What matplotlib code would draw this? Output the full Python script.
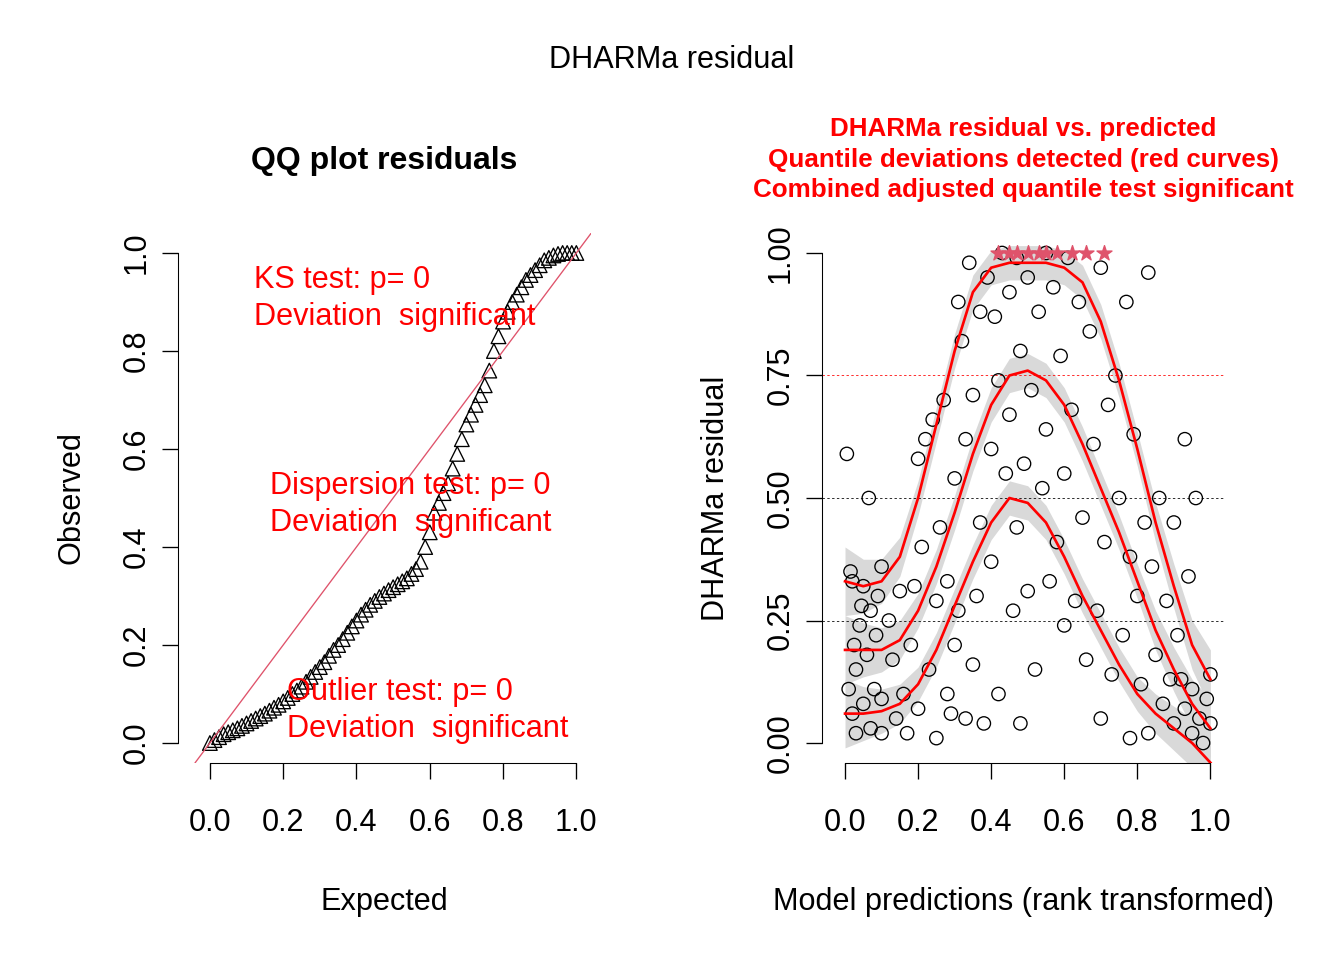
import matplotlib
matplotlib.use("Agg")
import matplotlib.pyplot as plt
import numpy as np

plt.rcParams['font.family'] = ['Liberation Sans', 'DejaVu Sans']

# QQ plot: observed quantiles at expected = i/80
qq_obs = [0.000, 0.006, 0.012, 0.018, 0.022, 0.026, 0.030, 0.035, 0.040, 0.045,
          0.050, 0.055, 0.060, 0.066, 0.072, 0.078, 0.085, 0.092, 0.100, 0.107,
          0.115, 0.125, 0.135, 0.145, 0.155, 0.165, 0.178, 0.190, 0.200, 0.212,
          0.225, 0.238, 0.250, 0.262, 0.272, 0.282, 0.290, 0.298, 0.305, 0.312,
          0.318, 0.324, 0.330, 0.336, 0.345, 0.355, 0.370, 0.400, 0.430, 0.470,
          0.490, 0.510, 0.530, 0.560, 0.590, 0.620, 0.650, 0.670, 0.690, 0.710,
          0.730, 0.760, 0.800, 0.830, 0.860, 0.880, 0.900, 0.915, 0.930, 0.945,
          0.955, 0.965, 0.975, 0.985, 0.990, 0.995, 0.998, 1.0, 1.0, 1.0, 1.0]
qq_exp = [i / 80 for i in range(81)]

# residual vs predicted scatter
res_pts = [(0.005,0.59),(0.01,0.11),(0.015,0.35),(0.02,0.06),(0.02,0.33),(0.025,0.2),(0.03,0.02),
           (0.03,0.15),(0.04,0.24),(0.045,0.28),(0.05,0.08),(0.05,0.32),(0.06,0.18),(0.065,0.5),
           (0.07,0.03),(0.07,0.27),(0.08,0.11),(0.085,0.22),(0.09,0.3),(0.1,0.36),(0.1,0.02),
           (0.1,0.09),(0.12,0.25),(0.13,0.17),(0.14,0.05),(0.15,0.31),(0.16,0.1),(0.17,0.02),
           (0.18,0.2),(0.19,0.32),(0.2,0.58),(0.2,0.07),(0.21,0.4),(0.22,0.62),(0.23,0.15),
           (0.24,0.66),(0.25,0.29),(0.25,0.01),(0.26,0.44),(0.27,0.7),(0.28,0.33),(0.28,0.1),
           (0.29,0.06),(0.3,0.54),(0.3,0.2),(0.31,0.9),(0.31,0.27),(0.32,0.82),(0.33,0.62),
           (0.33,0.05),(0.34,0.98),(0.35,0.71),(0.35,0.16),(0.36,0.3),(0.37,0.88),(0.37,0.45),
           (0.38,0.04),(0.39,0.95),(0.4,0.6),(0.4,0.37),(0.41,0.87),(0.42,0.74),(0.42,0.1),
           (0.43,1.0),(0.44,0.55),(0.45,0.92),(0.45,0.67),(0.46,0.27),(0.47,0.99),(0.47,0.44),
           (0.48,0.8),(0.48,0.04),(0.49,0.57),(0.5,0.95),(0.5,0.31),(0.51,0.72),(0.52,0.15),
           (0.53,0.88),(0.54,0.52),(0.55,1.0),(0.55,0.64),(0.56,0.33),(0.57,0.93),(0.58,0.41),
           (0.59,0.79),(0.6,0.55),(0.6,0.24),(0.61,0.99),(0.62,0.68),(0.63,0.29),(0.64,0.9),
           (0.65,0.46),(0.66,0.17),(0.67,0.84),(0.68,0.61),(0.69,0.27),(0.7,0.97),(0.7,0.05),
           (0.71,0.41),(0.72,0.69),(0.73,0.14),(0.74,0.75),(0.75,0.5),(0.76,0.22),(0.77,0.9),
           (0.78,0.38),(0.78,0.01),(0.79,0.63),(0.8,0.3),(0.81,0.12),(0.82,0.45),(0.83,0.96),
           (0.83,0.02),(0.84,0.36),(0.85,0.18),(0.86,0.5),(0.87,0.08),(0.88,0.29),(0.89,0.13),
           (0.9,0.45),(0.9,0.04),(0.91,0.22),(0.92,0.13),(0.93,0.62),(0.93,0.07),(0.94,0.34),
           (0.95,0.02),(0.95,0.11),(0.96,0.5),(0.97,0.05),(0.98,0.0),(0.99,0.09),(1.0,0.14),(1.0,0.04)]
res_x = [p[0] for p in res_pts]
res_y = [p[1] for p in res_pts]

star_x = [0.42, 0.45, 0.47, 0.5, 0.53, 0.55, 0.58, 0.62, 0.66, 0.71]

curve_x = [i / 20 for i in range(21)]
q_upper = [0.33, 0.32, 0.33, 0.38, 0.5, 0.65, 0.8, 0.92, 0.97, 0.98, 0.98,
           0.98, 0.97, 0.94, 0.86, 0.74, 0.6, 0.45, 0.32, 0.2, 0.13]
q_mid = [0.19, 0.19, 0.19, 0.21, 0.27, 0.36, 0.47, 0.59, 0.69, 0.75, 0.76,
         0.74, 0.69, 0.61, 0.52, 0.43, 0.33, 0.23, 0.15, 0.08, 0.03]
q_low = [0.06, 0.06, 0.065, 0.08, 0.12, 0.19, 0.28, 0.37, 0.45, 0.5, 0.49,
         0.45, 0.38, 0.30, 0.23, 0.16, 0.1, 0.06, 0.03, 0.0, -0.04]
band = [0.07, 0.055, 0.045, 0.04, 0.035, 0.035, 0.035, 0.035, 0.035, 0.035, 0.035,
        0.035, 0.035, 0.035, 0.035, 0.035, 0.035, 0.04, 0.045, 0.05, 0.06]

FS = 23

def r_axes(ax):
    for s in ['top', 'right']:
        ax.spines[s].set_visible(False)
    ax.spines['left'].set_bounds(0, 1)
    ax.spines['bottom'].set_bounds(0, 1)
    ax.set_xticks([0, 0.2, 0.4, 0.6, 0.8, 1.0])
    ax.set_xticklabels(['0.0', '0.2', '0.4', '0.6', '0.8', '1.0'], fontsize=FS)
    ax.tick_params(length=12, width=1)
    ax.tick_params(axis='x', pad=22)
    ax.tick_params(axis='y', labelrotation=90, pad=8)
    for lab in ax.get_yticklabels():
        lab.set_va('center')
    ax.set_ylim(-0.04, 1.04)

fig = plt.figure(figsize=(14, 10), dpi=96)
fig.text(0.5, 0.938, 'DHARMa residual', ha='center', va='center', fontsize=FS)

ax1 = fig.add_axes([178/1344, 0.2056, (591-178)/1344, 0.5513])
ax1.set_xlim(-0.087, 1.04)
ax1.axline((0, 0), (1, 1), color='#DF536B', lw=1)
ax1.scatter(qq_exp, qq_obs, marker='^', s=120, facecolors='none', edgecolors='black', linewidths=1)
ax1.set_yticks([0, 0.2, 0.4, 0.6, 0.8, 1.0])
ax1.set_yticklabels(['0.0', '0.2', '0.4', '0.6', '0.8', '1.0'], fontsize=FS)
r_axes(ax1)
ax1.set_title('QQ plot residuals', fontsize=24, fontweight='bold', pad=48)
ax1.set_xlabel('Expected', fontsize=FS, labelpad=37)
ax1.set_ylabel('Observed', fontsize=FS, labelpad=26)
ax1.text(0.12, 0.975, 'KS test: p= 0\nDeviation  significant', color='red', fontsize=FS,
         va='top', linespacing=1.3)
ax1.text(0.165, 0.555, 'Dispersion test: p= 0\nDeviation  significant', color='red', fontsize=FS,
         va='top', linespacing=1.3)
ax1.text(0.21, 0.135, 'Outlier test: p= 0\nDeviation  significant', color='red', fontsize=FS,
         va='top', linespacing=1.3)

ax2 = fig.add_axes([822/1344, 0.2056, (1225-822)/1344, 0.5513])
ax2.set_xlim(-0.063, 1.04)
for h, c in [(0.25, 'black'), (0.5, 'black'), (0.75, 'red')]:
    ax2.axhline(h, color=c, ls=(0, (3, 3)), lw=0.6)
cx = np.array(curve_x)
bw = np.array(band)
for q in [q_upper, q_mid, q_low]:
    qa = np.array(q)
    ax2.fill_between(cx, qa - bw, qa + bw, color='#d9d9d9', lw=0, zorder=1)
ax2.scatter(res_x, res_y, s=100, facecolors='none', edgecolors='black', linewidths=1, zorder=2)
for q in [q_upper, q_mid, q_low]:
    ax2.plot(curve_x, q, color='red', lw=2, zorder=3)
ax2.scatter(star_x, [1.0] * len(star_x), marker='*', s=140, color='#DF536B', zorder=4)
ax2.set_yticks([0, 0.25, 0.5, 0.75, 1.0])
ax2.set_yticklabels(['0.00', '0.25', '0.50', '0.75', '1.00'], fontsize=FS)
r_axes(ax2)
ax2.set_title('DHARMa residual vs. predicted\nQuantile deviations detected (red curves)\n'
              'Combined adjusted quantile test significant',
              color='red', fontsize=19.5, fontweight='bold', pad=27, linespacing=1.36)
ax2.set_xlabel('Model predictions (rank transformed)', fontsize=FS, labelpad=37)
ax2.set_ylabel('DHARMa residual', fontsize=FS, labelpad=26)

fig.savefig('out.png', dpi=96)
